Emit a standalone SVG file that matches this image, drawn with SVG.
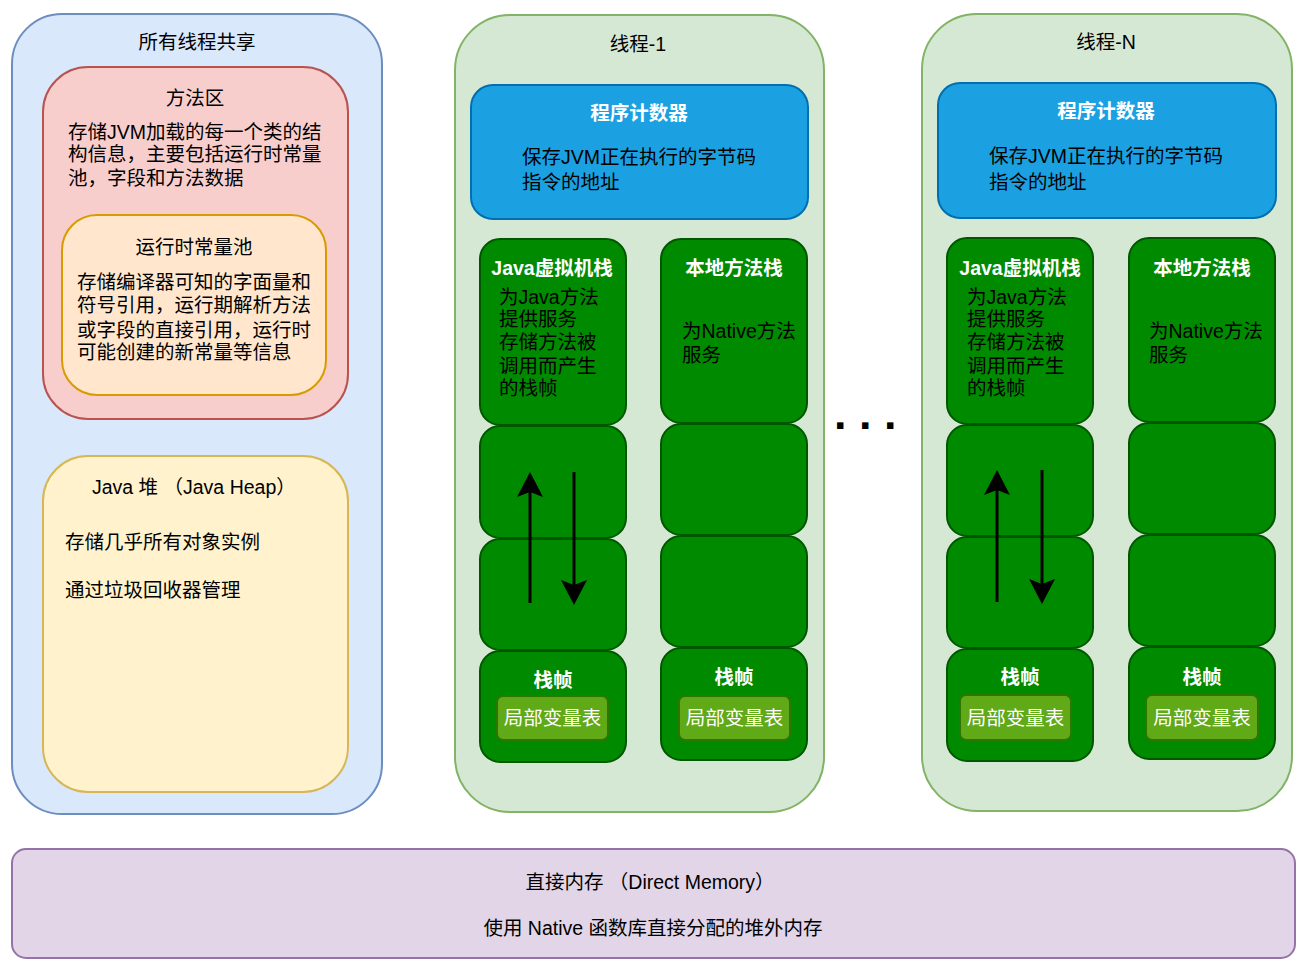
<svg xmlns="http://www.w3.org/2000/svg" width="1309" height="974" viewBox="0 0 1309 974">
  <style>
    text { font-family: "Liberation Sans", "Noto Sans CJK SC", sans-serif; font-size: 19.5px; fill: #000; dominant-baseline: central; }
    .c { text-anchor: middle; }
    .w { fill: #fff; }
    .b { font-weight: bold; }
    .shared { fill: #dae8fc; stroke: #6c8ebf; stroke-width: 2; }
    .method { fill: #f8cecc; stroke: #b85450; stroke-width: 2; }
    .pool { fill: #ffe6cc; stroke: #d79b00; stroke-width: 2; }
    .heap { fill: #fff2cc; stroke: #d6b656; stroke-width: 2; }
    .thread { fill: #d5e8d4; stroke: #82b366; stroke-width: 2; }
    .pc { fill: #1ba1e2; stroke: #006eaf; stroke-width: 2; }
    .stack { fill: #008a00; stroke: #005700; stroke-width: 2; }
    .locals { fill: #60a917; stroke: #2d7600; stroke-width: 2; }
    .direct { fill: #e1d5e7; stroke: #9673a6; stroke-width: 2; }
    .flow { stroke: #000; stroke-width: 3; fill: none; marker-end: url(#arrow); }
  </style>
  <defs>
    <marker id="arrow" viewBox="0 0 25 26" refX="5" refY="13" markerWidth="25" markerHeight="26" markerUnits="userSpaceOnUse" orient="auto">
      <path d="M0,0 L25,13 L0,26 L5,13 Z" fill="#000"/>
    </marker>
  </defs>

  <!-- shared area: method area, runtime constant pool, heap -->
  <g id="shared">
    <rect class="shared" x="12" y="14" width="370" height="800" rx="50"/>
    <text class="c" x="197" y="42">所有线程共享</text>
  </g>
  <g id="method-area">
    <rect class="method" x="43" y="67" width="305" height="352" rx="45"/>
    <text class="c" x="195" y="98">方法区</text>
    <text x="68" y="132">存储JVM加载的每一个类的结</text>
    <text x="68" y="154">构信息，主要包括运行时常量</text>
    <text x="68" y="178">池，字段和方法数据</text>
  </g>
  <g id="runtime-constant-pool">
    <rect class="pool" x="62" y="215" width="264" height="180" rx="35"/>
    <text class="c" x="194" y="247">运行时常量池</text>
    <text x="77" y="282">存储编译器可知的字面量和</text>
    <text x="77" y="304.5">符号引用，运行期解析方法</text>
    <text x="77" y="330">或字段的直接引用，运行时</text>
    <text x="77" y="352">可能创建的新常量等信息</text>
  </g>
  <g id="java-heap">
    <rect class="heap" x="43" y="456" width="305" height="336" rx="45"/>
    <text x="92" y="487">Java 堆 （Java Heap）</text>
    <text x="65" y="542">存储几乎所有对象实例</text>
    <text x="65" y="590">通过垃圾回收器管理</text>
  </g>

  <!-- thread 1 -->
  <g id="thread-1">
    <rect class="thread" x="455" y="15" width="369" height="797" rx="55"/>
    <text class="c" x="638" y="44">线程-1</text>
  </g>
  <g id="pc-1">
    <rect class="pc" x="471" y="85" width="337" height="134" rx="22"/>
    <text class="c w b" x="639" y="113">程序计数器</text>
    <text x="522" y="157">保存JVM正在执行的字节码</text>
    <text x="522" y="182">指令的地址</text>
  </g>
  <g id="jvm-stack-1">
    <rect class="stack" x="480" y="239" width="146" height="186" rx="20"/>
    <text class="c w b" x="552" y="268">Java虚拟机栈</text>
    <text x="499" y="297">为Java方法</text>
    <text x="499" y="318.5">提供服务</text>
    <text x="499" y="342">存储方法被</text>
    <text x="499" y="366">调用而产生</text>
    <text x="499" y="388">的栈帧</text>
    <rect class="stack" x="480" y="426" width="146" height="112" rx="20"/>
    <rect class="stack" x="480" y="539" width="146" height="111" rx="20"/>
    <rect class="stack" x="480" y="651" width="146" height="111" rx="20"/>
    <text class="c w b" x="553" y="680">栈帧</text>
    <rect class="locals" x="497" y="696" width="111" height="44" rx="6"/>
    <text class="c w" x="552.5" y="718">局部变量表</text>
  </g>
  <g id="native-stack-1">
    <rect class="stack" x="661" y="239" width="146" height="184" rx="20"/>
    <text class="c w b" x="734" y="268">本地方法栈</text>
    <text x="682" y="331">为Native方法</text>
    <text x="682" y="355">服务</text>
    <rect class="stack" x="661" y="424" width="146" height="111" rx="20"/>
    <rect class="stack" x="661" y="536" width="146" height="111" rx="20"/>
    <rect class="stack" x="661" y="648" width="146" height="112" rx="20"/>
    <text class="c w b" x="734" y="677">栈帧</text>
    <rect class="locals" x="679" y="696" width="111" height="44" rx="6"/>
    <text class="c w" x="734.5" y="718">局部变量表</text>
  </g>

  <!-- ellipsis between threads -->
  <g id="ellipsis">
    <text x="834" y="413" style="font-size:45px;font-weight:bold">. . .</text>
  </g>

  <!-- thread N -->
  <g id="thread-n">
    <rect class="thread" x="922" y="14" width="370" height="797" rx="55"/>
    <text class="c" x="1106" y="42">线程-N</text>
  </g>
  <g id="pc-n">
    <rect class="pc" x="938" y="83" width="338" height="135" rx="22"/>
    <text class="c w b" x="1106" y="111">程序计数器</text>
    <text x="989" y="156">保存JVM正在执行的字节码</text>
    <text x="989" y="182">指令的地址</text>
  </g>
  <g id="jvm-stack-n">
    <rect class="stack" x="947" y="238" width="146" height="186" rx="20"/>
    <text class="c w b" x="1020" y="268">Java虚拟机栈</text>
    <text x="967" y="297">为Java方法</text>
    <text x="967" y="318.5">提供服务</text>
    <text x="967" y="342">存储方法被</text>
    <text x="967" y="366">调用而产生</text>
    <text x="967" y="388">的栈帧</text>
    <rect class="stack" x="947" y="425" width="146" height="111" rx="20"/>
    <rect class="stack" x="947" y="537" width="146" height="111" rx="20"/>
    <rect class="stack" x="947" y="649" width="146" height="112" rx="20"/>
    <text class="c w b" x="1020" y="677">栈帧</text>
    <rect class="locals" x="960" y="695" width="111" height="45" rx="6"/>
    <text class="c w" x="1015.5" y="717.5">局部变量表</text>
  </g>
  <g id="native-stack-n">
    <rect class="stack" x="1129" y="238" width="146" height="184" rx="20"/>
    <text class="c w b" x="1202" y="268">本地方法栈</text>
    <text x="1149" y="331">为Native方法</text>
    <text x="1149" y="355">服务</text>
    <rect class="stack" x="1129" y="423" width="146" height="111" rx="20"/>
    <rect class="stack" x="1129" y="535" width="146" height="111" rx="20"/>
    <rect class="stack" x="1129" y="647" width="146" height="112" rx="20"/>
    <text class="c w b" x="1202" y="677">栈帧</text>
    <rect class="locals" x="1146" y="695" width="112" height="45" rx="6"/>
    <text class="c w" x="1202" y="717.5">局部变量表</text>
  </g>

  <!-- direct memory -->
  <g id="direct-memory">
    <rect class="direct" x="12" y="849" width="1283" height="109" rx="14"/>
    <text class="c" x="650" y="882">直接内存 （Direct Memory）</text>
    <text class="c" x="653" y="928">使用 Native 函数库直接分配的堆外内存</text>
  </g>

  <!-- push / pop arrows across stack frames -->
  <g id="connectors">
    <path class="flow" d="M530,603 L530,492"/>
    <path class="flow" d="M574,472 L574,585"/>
    <path class="flow" d="M997,602 L997,490"/>
    <path class="flow" d="M1042,470 L1042,584"/>
  </g>
</svg>
